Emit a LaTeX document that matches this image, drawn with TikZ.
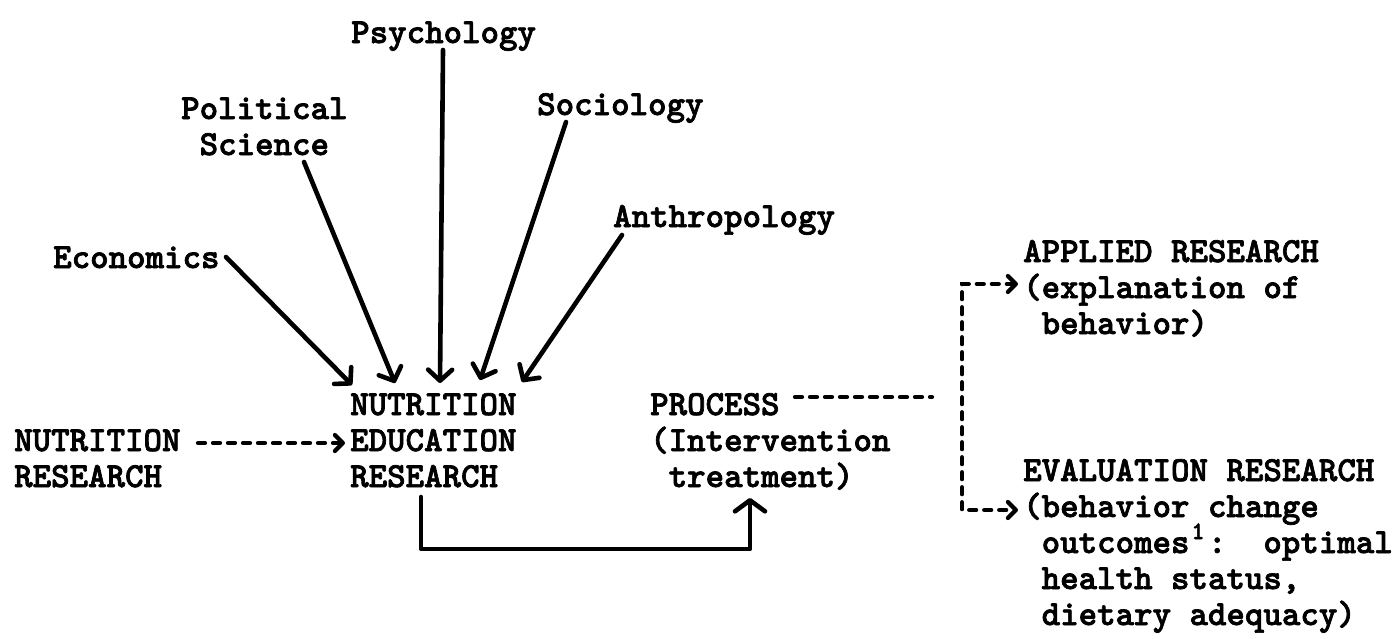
\documentclass[tikz,border=0pt]{standalone}
\usepackage{fontspec}
\newfontfamily\tw{lmmonolt10-bold.otf}[FakeBold=2]
\usetikzlibrary{arrows.meta}
\begin{document}
\begin{tikzpicture}[x=1pt,y=-1pt,
  lbl/.style={anchor=base west, inner sep=0pt, align=left,
    font=\tw\fontsize{35.2}{36}\selectfont},
  feed/.style={line width=4.6pt, line cap=round, line join=round,
    -{Straight Barb[length=11pt,width=24pt,round]}},
  wide feed/.style={feed, -{Straight Barb[length=11pt,width=30pt,round]}},
  dashline/.style={line width=4.2pt, line cap=round, dash pattern=on 7pt off 8pt},
  dasharrow/.style={dashline, -{Straight Barb[length=8pt,width=16pt,round]}},
]
\useasboundingbox (0,0) rectangle (1397,638);

% labels (anchor = baseline of the last line)
\node[lbl] (psy) at (351,43) {Psychology};
\node[lbl, align=center] (pol) at (181,155) {Political\\Science};
\node[lbl] (eco) at (53,268) {Economics};
\node[lbl] (soc) at (537,115) {Sociology};
\node[lbl] (ant) at (613,227) {Anthropology};
\node[lbl] (ner) at (350,487) {NUTRITION\\EDUCATION\\RESEARCH};
\node[lbl] (nr) at (14,487) {NUTRITION\\RESEARCH};
\node[lbl] (proc) at (650,487) {PROCESS\\(Intervention\\~treatment)};
\node[lbl] (app) at (1023,334) {APPLIED RESEARCH\\(explanation of\\~behavior)};
\node[lbl] (eval) at (1023,625) {EVALUATION RESEARCH\\(behavior change\\~outcomes~:~~optimal\\~health status,\\~dietary adequacy)};
\node[inner sep=0pt, anchor=base, font=\tw\fontsize{25}{26}\selectfont] (fn) at (1198,539) {1};

% coordinates
\coordinate (ecoS) at (226,257);  \coordinate (ecoT) at (352,385);
\coordinate (polS) at (304,162);  \coordinate (polT) at (395,383);
\coordinate (psyS) at (443,50);   \coordinate (psyT) at (440,383);
\coordinate (socS) at (566,122);  \coordinate (socT) at (480,380);
\coordinate (antS) at (622,235);  \coordinate (antT) at (522,382);
\coordinate (nrS) at (198,443);   \coordinate (nrT) at (345,443);
\coordinate (nerB) at (421,497);  \coordinate (nerC) at (421,549);
\coordinate (procC) at (750,549); \coordinate (procT) at (750,498);
\coordinate (prS) at (795,397);   \coordinate (prE) at (932,397);
\coordinate (appT) at (1018,284); \coordinate (cUp) at (962,284);
\coordinate (cDn) at (962,510);   \coordinate (evT) at (1018,510);

\draw[feed] (ecoS) -- (ecoT);
\draw[feed] (polS) -- (polT);
\draw[feed] (psyS) -- (psyT);
\draw[feed] (socS) -- (socT);
\draw[feed] (antS) -- (antT);
\draw[wide feed] (nerB) -- (nerC) -- (procC) -- (procT);
\draw[dasharrow] (nrS) -- (nrT);
\draw[dashline] (prS) -- (prE);
\draw[dashline, {Straight Barb[length=8pt,width=16pt,round]}-{Straight Barb[length=8pt,width=16pt,round]}] (appT) -- (cUp) -- (cDn) -- (evT);
\end{tikzpicture}
\end{document}
